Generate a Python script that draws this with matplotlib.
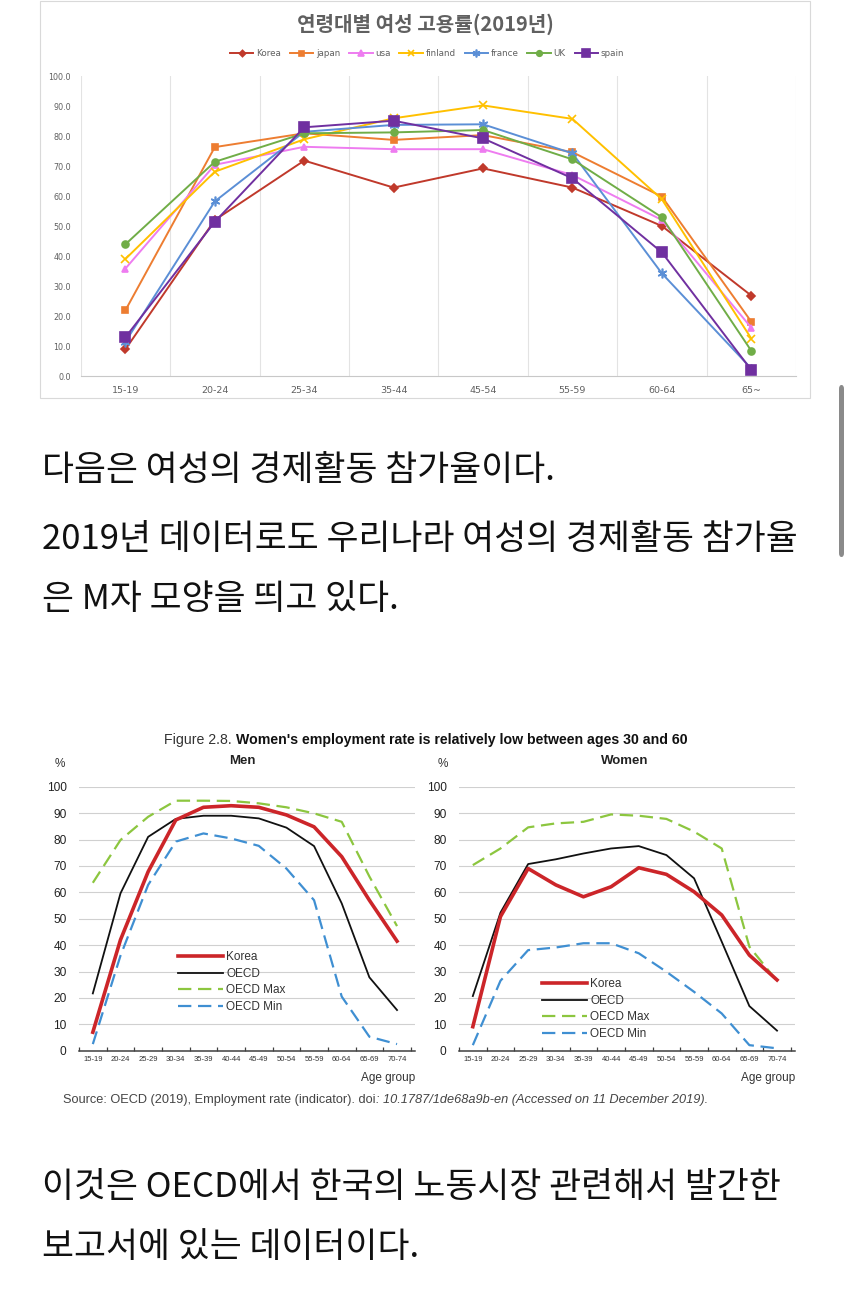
import matplotlib
matplotlib.use("Agg")
import matplotlib.pyplot as plt
from matplotlib.patches import Rectangle, FancyBboxPatch

W, H = 850, 1297

# ---- data: top chart (women employment rate by age, 2019) ----
age_top = ["15-19", "20-24", "25-34", "35-44", "45-54", "55-59", "60-64", "65~"]
korea = [8.9, 52.0, 71.8, 62.8, 69.2, 62.8, 50.0, 26.8]
japan = [21.9, 76.3, 80.9, 78.7, 80.3, 74.6, 59.8, 18.1]
usa = [35.8, 70.4, 76.4, 75.6, 75.6, 67.0, 52.0, 16.1]
finland = [39.0, 68.1, 78.9, 85.9, 90.2, 85.7, 58.9, 12.5]
france = [11.4, 58.2, 81.4, 83.7, 83.9, 74.2, 34.2, 2.5]
uk = [43.9, 71.4, 80.9, 81.2, 82.0, 72.2, 52.9, 8.4]
spain = [12.9, 51.4, 82.9, 85.1, 79.2, 65.9, 41.2, 2.0]

# ---- data: OECD figure 2.8 ----
age_oecd = ["15-19", "20-24", "25-29", "30-34", "35-39", "40-44",
            "45-49", "50-54", "55-59", "60-64", "65-69", "70-74"]
men_korea = [7.0, 42.0, 67.8, 87.4, 92.2, 92.8, 92.2, 89.3, 84.8, 73.5, 57.0, 41.5]
men_oecd = [21.7, 59.6, 81.0, 87.8, 89.0, 89.0, 88.0, 84.5, 77.5, 55.8, 27.8, 15.4]
men_max = [63.6, 79.8, 88.6, 94.7, 94.7, 94.6, 93.7, 92.2, 89.9, 86.7, 66.0, 47.2]
men_min = [2.5, 36.0, 62.8, 79.2, 82.3, 80.4, 77.6, 69.0, 57.0, 20.5, 5.3, 2.5]
women_korea = [9.1, 50.8, 69.0, 62.8, 58.3, 62.1, 69.3, 66.8, 60.2, 51.4, 36.2, 26.8]
women_oecd = [20.7, 52.3, 70.7, 72.5, 74.7, 76.6, 77.5, 74.1, 65.3, 41.3, 16.9, 7.6]
women_max = [70.3, 76.6, 84.6, 86.1, 86.7, 89.5, 89.0, 87.8, 83.0, 76.6, 39.4, 26.4]
women_min = [2.1, 26.5, 38.1, 39.1, 40.7, 40.7, 36.9, 29.9, 22.3, 14.1, 2.1, 0.9]

KR = ["Noto Sans CJK KR", "DejaVu Sans"]
NARROW = ["Liberation Sans Narrow", "Liberation Sans", "DejaVu Sans"]

fig = plt.figure(figsize=(W / 100, H / 100), dpi=100)
fig.patch.set_facecolor("white")


def box(x0, y0, x1, y1):
    return fig.add_axes([x0 / W, 1 - y1 / H, (x1 - x0) / W, (y1 - y0) / H])


def ftext(x, y, s, **kw):
    return fig.text(x / W, 1 - y / H, s, **kw)


# ================= top chart =================
fig.patches.append(Rectangle((40 / W, 1 - 398 / H), 770 / W, 397 / H,
                             transform=fig.transFigure, fill=False,
                             edgecolor="#d9d9d9", lw=0.8))

ax = box(80.7, 76, 796, 376)
xs = range(len(age_top))
series = [
    ("Korea", korea, "#c0392b", "D", 4),
    ("japan", japan, "#ed7d31", "s", 4.5),
    ("usa", usa, "#ee7cf0", "^", 5),
    ("finland", finland, "#ffc000", "x", 6),
    ("france", france, "#5b8fd6", (6, 2, 0), 7),
    ("UK", uk, "#70ad47", "o", 5),
    ("spain", spain, "#7030a0", "s", 6.5),
]
for name, vals, col, mk, ms in series:
    ax.plot(xs, vals, color=col, lw=1.4, marker=mk, ms=ms, mec=col, mfc=col,
            mew=1.2, label=name)
ax.set_xlim(-0.5, len(age_top) - 0.5)
ax.set_ylim(0, 100)
for b in range(len(age_top) + 1):
    ax.axvline(b - 0.5, color="#e3e3e3", lw=0.8, zorder=0)
for s in ["top", "right", "left"]:
    ax.spines[s].set_visible(False)
ax.spines["bottom"].set_color("#c8c8c8")
ax.set_yticks(range(0, 101, 10))
ax.set_yticklabels([f"{v:.1f}" for v in range(0, 101, 10)])
ax.set_xticks(list(xs))
ax.set_xticklabels(age_top)
ax.tick_params(axis="y", length=0, pad=7, labelsize=5.8, labelcolor="#606060")
ax.tick_params(axis="x", length=0, pad=7, labelsize=6.8, labelcolor="#606060")
ax.legend(loc="center", bbox_to_anchor=(427 / W, 1 - 54 / H),
          bbox_transform=fig.transFigure, ncol=7, frameon=False,
          fontsize=6.3, handlelength=2.7, columnspacing=1.0,
          handletextpad=0.3, markerscale=0.8, labelcolor="#606060")
ftext(425, 24, "연령대별 여성 고용률(2019년)", family=KR, fontsize=14.5,
      fontweight="bold", color="#606060", ha="center", va="center")

# ================= blog text =================
txt = dict(family=KR, fontsize=25, color="#111111", ha="left", va="center")
ftext(42, 471, "다음은 여성의 경제활동 참가율이다.", **txt)
ftext(42, 540, "2019년 데이터로도 우리나라 여성의 경제활동 참가율", **txt)
ftext(42, 600, "은 M자 모양을 띄고 있다.", **txt)
ftext(42, 1187, "이것은 OECD에서 한국의 노동시장 관련해서 발간한", **txt)
ftext(42, 1247, "보고서에 있는 데이터이다.", **txt)

# scrollbar
fig.patches.append(FancyBboxPatch((839 / W, 1 - 557 / H), 5 / W, 172 / H,
                                  boxstyle="round,pad=0,rounding_size=0.003",
                                  transform=fig.transFigure,
                                  facecolor="#8a8a8a", edgecolor="none"))

# ================= OECD figure =================
ftext(232, 740, "Figure 2.8.", family=NARROW, fontsize=10.2, color="#333333",
      ha="right", va="center")
ftext(236, 740, "Women's employment rate is relatively low between ages 30 and 60",
      family=NARROW, fontsize=10.2, fontweight="bold", color="#111111",
      ha="left", va="center")


def oecd_panel(x0, x1, title, title_x, pct_x, kor, oecd, mx, mn, leg_xy):
    a = box(x0, 786.7, x1, 1050.7)
    xs = range(len(age_oecd))
    a.plot(xs, kor, color="#cc2529", lw=2.6, label="Korea", zorder=5)
    a.plot(xs, oecd, color="#111111", lw=1.3, label="OECD", zorder=4)
    a.plot(xs, mx, color="#8cc63f", lw=1.6, dashes=(6, 3), label="OECD Max", zorder=3)
    a.plot(xs, mn, color="#3f8fd2", lw=1.6, dashes=(6, 3), label="OECD Min", zorder=3)
    a.set_xlim(-0.5, len(age_oecd) - 0.35)
    a.set_ylim(0, 100)
    a.set_yticks(range(0, 101, 10))
    a.grid(axis="y", color="#d0d0d0", lw=0.8)
    a.set_axisbelow(True)
    for s in ["top", "right", "left"]:
        a.spines[s].set_visible(False)
    a.spines["bottom"].set_color("#404040")
    a.spines["bottom"].set_linewidth(1.1)
    a.set_xticks(list(xs))
    a.set_xticklabels(age_oecd, family=NARROW)
    a.set_xticks([k - 0.5 for k in range(len(age_oecd) + 1)], minor=True)
    a.tick_params(axis="x", which="major", length=0, pad=4, labelsize=5.5,
                  labelcolor="#333333")
    a.tick_params(axis="x", which="minor", length=3, direction="in",
                  color="#404040", width=0.9)
    a.tick_params(axis="y", length=0, pad=9, labelsize=8.6, labelcolor="#222222")
    for lab in a.get_yticklabels():
        lab.set_family(NARROW)
    a.legend(loc="upper left", bbox_to_anchor=(leg_xy[0] / W, 1 - leg_xy[1] / H),
             bbox_transform=fig.transFigure, frameon=False, borderpad=0,
             borderaxespad=0, handlelength=3.8, handletextpad=0.3,
             labelspacing=0.4, prop={"family": NARROW, "size": 8.5},
             labelcolor="#333333")
    ftext(title_x, 761, title, family=NARROW, fontsize=9.5, fontweight="bold",
          color="#222222", ha="center", va="center")
    ftext(pct_x, 764, "%", family=NARROW, fontsize=8.5, color="#333333",
          ha="center", va="center")
    ftext(x1, 1078, "Age group", family=NARROW, fontsize=8.5, color="#333333",
          ha="right", va="center")
    return a


oecd_panel(79, 415, "Men", 242, 60, men_korea, men_oecd, men_max, men_min, (178, 951))
oecd_panel(459, 795, "Women", 625, 443, women_korea, women_oecd, women_max,
           women_min, (541.7, 978))

# source line: regular part then italic part
r = fig.canvas.get_renderer()
t1 = ftext(63, 1100, "Source: OECD (2019), Employment rate (indicator). doi",
           family=["Liberation Sans", "DejaVu Sans"], fontsize=9.2,
           color="#444444", ha="left", va="center")
bb = t1.get_window_extent(r)
ftext(bb.x1 + 1, 1100, ": 10.1787/1de68a9b-en (Accessed on 11 December 2019).",
      family=["Liberation Sans", "DejaVu Sans"], fontsize=9.2, style="italic",
      color="#444444", ha="left", va="center")

fig.savefig("out.png", dpi=100, facecolor="white")
